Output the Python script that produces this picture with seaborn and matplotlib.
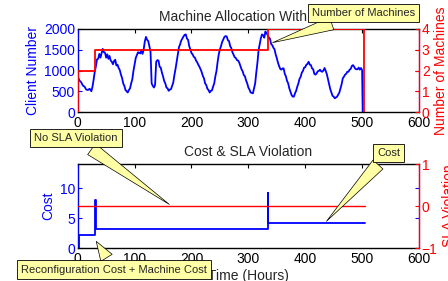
import matplotlib
matplotlib.use("Agg")
import matplotlib.pyplot as plt
import seaborn as sns
import pandas as pd

# ---------------- data ----------------
client_hours = [0, 3, 6, 9, 12, 15, 18, 21, 24, 26, 28, 30, 32, 34, 36, 38, 40, 42, 44, 46,
                48, 50, 52, 54, 56, 58, 60, 62, 64, 66, 68, 70, 72, 74, 76, 78, 80, 82, 84, 86,
                88, 90, 92, 94, 96, 98, 100, 102, 104, 106, 108, 110, 112, 114, 116, 118, 120, 122, 124, 126,
                128, 130, 132, 134, 136, 138, 140, 142, 144, 146, 148, 150, 152, 154, 156, 158, 160, 162, 164, 166,
                168, 170, 172, 174, 176, 178, 180, 182, 184, 186, 188, 190, 192, 194, 196, 198, 200, 202, 204, 206,
                208, 210, 212, 214, 216, 218, 220, 222, 224, 226, 228, 230, 232, 234, 236, 238, 240, 242, 244, 246,
                248, 250, 252, 254, 256, 258, 260, 262, 264, 266, 268, 270, 272, 274, 276, 278, 280, 282, 284, 286,
                288, 290, 292, 294, 296, 298, 300, 302, 304, 306, 308, 310, 312, 314, 316, 318, 320, 322, 324, 326,
                328, 330, 332, 334, 336, 338, 340, 342, 344, 346, 348, 350, 352, 354, 356, 358, 360, 362, 364, 366,
                368, 370, 372, 374, 376, 378, 380, 382, 384, 386, 388, 390, 392, 394, 396, 398, 400, 402, 404, 406,
                408, 410, 412, 414, 416, 418, 420, 422, 424, 426, 428, 430, 432, 434, 436, 438, 440, 442, 444, 446,
                448, 450, 452, 454, 456, 458, 460, 462, 464, 466, 468, 470, 472, 474, 476, 478, 480, 482, 484, 486,
                488, 490, 492, 494, 496, 498, 500, 501]
client_number = [850, 760, 720, 640, 610, 540, 530, 560, 500, 610, 780, 970, 1100, 1270, 1280, 1400, 1310, 1420, 1520, 1440,
                 1430, 1310, 1390, 1280, 1350, 1240, 1210, 1150, 1230, 1260, 1120, 1140, 1060, 1010, 900, 820, 690, 630, 530, 500,
                 470, 530, 570, 690, 790, 990, 1140, 1300, 1370, 1440, 1430, 1410, 1490, 1400, 1510, 1700, 1810, 1740, 1710, 1590,
                 1460, 690, 630, 590, 650, 1210, 1250, 1240, 1090, 1070, 950, 860, 750, 690, 590, 570, 510, 540, 550, 630,
                 710, 890, 1040, 1210, 1390, 1560, 1630, 1720, 1770, 1820, 1860, 1870, 1770, 1740, 1590, 1510, 1420, 1390, 1330, 1310,
                 1240, 1200, 1140, 1090, 1030, 960, 870, 810, 690, 650, 560, 530, 470, 510, 520, 610, 690, 860, 990, 1210,
                 1390, 1510, 1590, 1690, 1750, 1810, 1830, 1820, 1730, 1710, 1590, 1540, 1440, 1380, 1320, 1300, 1250, 1240, 1190, 1110,
                 1030, 980, 890, 860, 760, 690, 590, 540, 470, 460, 450, 570, 690, 960, 1190, 1490, 1640, 1780, 1870, 1850,
                 1790, 1940, 1890, 1860, 1790, 1770, 1640, 1610, 1550, 1510, 1390, 1300, 1190, 1110, 1040, 1020, 1050, 1050, 920, 860,
                 750, 690, 570, 490, 410, 370, 370, 450, 510, 610, 690, 800, 850, 950, 990, 1070, 1080, 1140, 1160, 1210,
                 1140, 1130, 1050, 1030, 920, 900, 930, 980, 990, 1020, 980, 970, 1000, 1060, 990, 910, 790, 670, 550, 470,
                 390, 370, 330, 350, 370, 420, 470, 570, 670, 810, 850, 900, 920, 970, 970, 1020, 1040, 1110, 1130, 1090,
                 1040, 1030, 1030, 1070, 1020, 1060, 1010, 0]

machine_hours = [0, 0, 30, 334, 503]
machine_count = [0, 2, 3, 4, 0]

cost_hours = [0, 2, 31, 32, 334, 335, 505]
cost_values = [0, 2.2, 8, 3.2, 9.1, 4.1, 4.1]

sla_hours = [0, 505]
sla_values = [0, 0]

x_ticks = [0, 100, 200, 300, 400, 500, 600]
client_ticks = [0, 500, 1000, 1500, 2000]
machine_ticks = [0, 1, 2, 3, 4]
cost_ticks = [0, 5, 10]
sla_ticks = [-1, 0, 1]

# ---------------- style ----------------
sns.set_style("white")
plt.rcParams['font.family'] = ['Liberation Sans', 'DejaVu Sans']
plt.rcParams['font.size'] = 10

BLUE = (0, 0, 1)
RED = (1, 0, 0)
YELLOW = '#ffffa6'

fig = plt.figure(figsize=(4.48, 2.81), dpi=100)
W, H = 448.0, 281.0
L, R = 77.7 / W, 419.0 / W
ax1 = fig.add_axes([L, 1 - 112 / H, R - L, (112 - 29) / H])
ax2 = fig.add_axes([L, 1 - 248 / H, R - L, (248 - 164) / H])
ax1r = ax1.twinx()
ax2r = ax2.twinx()

df_c = pd.DataFrame({'t': client_hours, 'v': client_number})
df_m = pd.DataFrame({'t': machine_hours, 'v': machine_count})
df_cost = pd.DataFrame({'t': cost_hours, 'v': cost_values})
df_sla = pd.DataFrame({'t': sla_hours, 'v': sla_values})

sns.lineplot(data=df_c, x='t', y='v', ax=ax1, color=BLUE, lw=1.3, sort=False, estimator=None)
sns.lineplot(data=df_m, x='t', y='v', ax=ax1r, color=RED, lw=1.3, sort=False, estimator=None,
             drawstyle='steps-post')
sns.lineplot(data=df_cost, x='t', y='v', ax=ax2, color=BLUE, lw=1.3, sort=False, estimator=None,
             drawstyle='steps-post')
sns.lineplot(data=df_sla, x='t', y='v', ax=ax2r, color=RED, lw=1.0, sort=False, estimator=None)


def style_pair(ax, axr, left_ticks, right_ticks, ylim, ylim_r, left_label, right_label):
    ax.set_xlim(0, 600)
    ax.set_xticks(x_ticks)
    ax.set_ylim(*ylim)
    ax.set_yticks(left_ticks)
    axr.set_ylim(*ylim_r)
    axr.set_yticks(right_ticks)
    ax.set_xlabel('')
    ax.set_ylabel(left_label, color=BLUE, fontsize=10, labelpad=3)
    axr.set_ylabel(right_label, color=RED, fontsize=10, labelpad=3)
    ax.tick_params(axis='x', direction='in', length=3, top=True, colors='black', labelsize=10, pad=3)
    ax.tick_params(axis='y', direction='in', length=3, right=True, color=BLUE, labelcolor=BLUE,
                   labelsize=10, pad=2)
    axr.tick_params(axis='y', direction='in', length=3, color=RED, labelcolor=RED, labelsize=10, pad=2)
    for s in ['top', 'bottom']:
        ax.spines[s].set_color('black')
        ax.spines[s].set_linewidth(1.0)
        axr.spines[s].set_visible(False)
    ax.spines['left'].set_color(BLUE)
    ax.spines['left'].set_linewidth(1.0)
    ax.spines['right'].set_color(BLUE)
    axr.spines['left'].set_visible(False)
    axr.spines['right'].set_color(RED)
    axr.spines['right'].set_linewidth(1.0)


style_pair(ax1, ax1r, client_ticks, machine_ticks, (0, 2000), (0, 4), 'Client Number', 'Number of Machines')
style_pair(ax2, ax2r, cost_ticks, sla_ticks, (0, 14), (-1, 1), 'Cost', 'SLA Violation')

ax1.set_title('Machine Allocation With SLA', fontsize=10, pad=6)
ax2.set_title('Cost & SLA Violation', fontsize=10, pad=6)
ax2.set_xlabel('Time (Hours)', fontsize=10, labelpad=2)


def callout(host, text, xy, xycoords, xytext):
    host.annotate(text, xy=xy, xycoords=xycoords, xytext=xytext, textcoords='figure fraction',
                  fontsize=8, ha='center', va='center', zorder=20, annotation_clip=False,
                  bbox=dict(boxstyle='square,pad=0.38', fc=YELLOW, ec='black', lw=0.6),
                  arrowprops=dict(arrowstyle='wedge,tail_width=1.2,shrink_factor=0.5',
                                  fc=YELLOW, ec='black', lw=0.5))


callout(ax1r, 'Number of Machines', (338, 1650), ax1.transData, (363.5 / W, 1 - 13 / H))
callout(ax2r, 'No SLA Violation', (165, 0), ax2r.transData, (75.9 / W, 1 - 138 / H))
callout(ax2r, 'Cost', (434, 4.1), ax2.transData, (388.5 / W, 1 - 152.9 / H))
callout(ax2r, 'Reconfiguration Cost + Machine Cost', (30, 1.5), ax2.transData, (113.9 / W, 1 - 269.7 / H))

fig.savefig('out.png', dpi=100)
